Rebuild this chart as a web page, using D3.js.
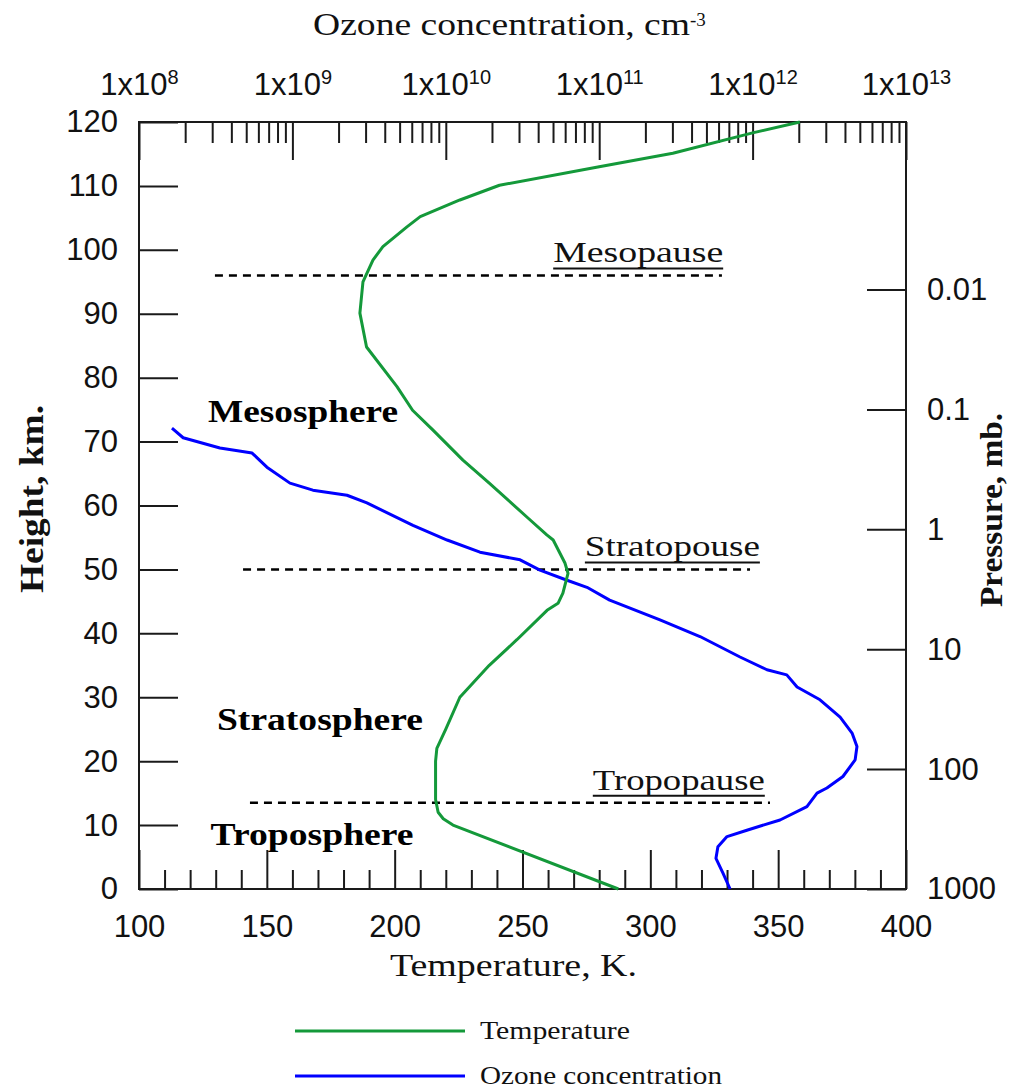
<!DOCTYPE html>
<html>
<head>
<meta charset="utf-8">
<script src="https://cdn.jsdelivr.net/npm/d3@7"></script>
<style>
  html, body { margin: 0; padding: 0; background: #fff; }
  svg { display: block; }
</style>
</head>
<body>
<svg id="chart" width="1010" height="1089"></svg>
<script>
// Temperature profile: height (km) and temperature (K)
const tempKm = [0, 10, 11, 12, 14, 20, 22, 25, 30, 35, 39, 43.6, 44.7, 46.3, 49.4, 51, 54.6, 55.4,
  58.2, 63.5, 67.1, 71.8, 74.9, 78.6, 84.8, 90.1, 95.0, 98.4, 100.5, 103.6, 105.2, 107.8, 110.1,
  113, 115.1, 118.3, 120];
const tempK = [287.5, 222.8, 219, 217, 216, 216, 216.5, 220, 225.5, 237, 247.8, 259.6, 263.9, 265.8,
  267.8, 266.6, 262, 259.5, 251.7, 237, 226.7, 215, 207, 200.9, 189, 186.4, 187.6, 191.5, 195.4,
  204.8, 210, 225.5, 241, 280, 308.8, 340, 358.5];

// Ozone profile: height (km) and number density (cm^-3)
const ozoneKm = [0, 2.5, 4.8, 6.6, 8.2, 9.2, 10.8, 12.9, 15, 15.8, 17.6, 20.2, 22.3, 24.4, 26.9,
  29.6, 31.6, 33.5, 34.3, 36.3, 39.5, 42.1, 45.2, 47.2, 48.3, 49.9, 51.5, 52.7, 54.6, 56.9, 60.4,
  61.6, 62.4, 63.5, 66, 68.2, 69, 70.6, 72.1];
const ozoneConc = [7.13e11, 6.41e11, 5.77e11, 5.94e11, 6.81e11, 9.18e11, 1.51e12, 2.26e12, 2.63e12,
  3.05e12, 3.88e12, 4.66e12, 4.79e12, 4.45e12, 3.72e12, 2.75e12, 1.95e12, 1.67e12, 1.24e12, 8.28e11,
  4.54e11, 2.49e11, 1.17e11, 8.32e10, 6.17e10, 4.11e10, 3.05e10, 1.67e10, 1.02e10, 6.11e9, 3.06e9,
  2.27e9, 1.36e9, 9.64e8, 6.82e8, 5.46e8, 3.37e8, 1.94e8, 1.64e8];

// Axis ticks
const heightTicks = [0, 10, 20, 30, 40, 50, 60, 70, 80, 90, 100, 110, 120];
const tempMajorTicks = [100, 150, 200, 250, 300, 350, 400];
const ozoneDecades = [1e8, 1e9, 1e10, 1e11, 1e12, 1e13];
const ozoneExponents = ["8", "9", "10", "11", "12", "13"];
const pressureTicks = [0.01, 0.1, 1, 10, 100, 1000];
const pressureLabels = ["0.01", "0.1", "1", "10", "100", "1000"];

// Layer boundaries (km) and region names
const pauseNames = ["Mesopause", "Stratopouse", "Tropopause"];
const pauseKm = [96, 50, 13.5];
const sphereNames = ["Mesosphere", "Stratosphere", "Troposphere"];

const seriesNames = ["Temperature", "Ozone concentration"];

const GREEN = "#14993a", BLUE = "#0000ff", INK = "#1a1a1a";
const SANS = "'Liberation Sans', Arial, sans-serif";
const SERIF = "'Liberation Serif', 'Times New Roman', serif";

const svg = d3.select("#chart");
const M = { left: 139, top: 122 }, W = 767, H = 767;
const g = svg.append("g").attr("transform", `translate(${M.left},${M.top})`);

const x = d3.scaleLinear().domain([100, 400]).range([0, W]);
const xo = d3.scaleLog().domain([1e8, 1e13]).range([0, W]);
const y = d3.scaleLinear().domain([0, 120]).range([H, 0]);
const yp = d3.scaleLog().domain([1000, 4e-4]).range([H, 0]);

function styleAxis(sel, size) {
  sel.select(".domain").remove();
  sel.selectAll(".tick line").attr("stroke", INK).attr("stroke-width", 2);
  sel.selectAll(".tick text").attr("fill", "#111").attr("font-family", SANS).attr("font-size", size);
}

// Left axis: height
g.append("g")
  .call(d3.axisLeft(y).tickValues(heightTicks).tickSize(-39).tickPadding(21).tickFormat(d3.format("d")))
  .call(s => styleAxis(s, 31));

// Bottom axis: temperature (minor + major)
g.append("g").attr("transform", `translate(0,${H})`)
  .call(d3.axisBottom(x).tickValues(d3.range(110, 400, 10).filter(v => v % 50 !== 0)).tickSize(-19).tickFormat(""))
  .call(s => styleAxis(s, 31));
g.append("g").attr("transform", `translate(0,${H})`)
  .call(d3.axisBottom(x).tickValues(tempMajorTicks).tickSize(-39).tickPadding(26).tickFormat(d3.format("d")))
  .call(s => styleAxis(s, 31));

// Top axis: ozone concentration (log)
const minorOz = xo.ticks().filter(v => !ozoneDecades.some(d => Math.abs(v / d - 1) < 1e-9));
g.append("g")
  .call(d3.axisTop(xo).tickValues(minorOz).tickSize(-21).tickFormat(""))
  .call(s => styleAxis(s, 31));
const topAx = g.append("g")
  .call(d3.axisTop(xo).tickValues(ozoneDecades).tickSize(-38).tickPadding(27).tickFormat(""))
  .call(s => styleAxis(s, 31));
topAx.selectAll(".tick text").each(function (d, i) {
  const t = d3.select(this);
  t.text("1x10");
  t.append("tspan").attr("dy", "-0.55em").attr("font-size", 20).text(ozoneExponents[i]);
});

// Right axis: pressure (log)
g.append("g").attr("transform", `translate(${W},0)`)
  .call(d3.axisRight(yp).tickValues(pressureTicks).tickSize(-39).tickPadding(21)
    .tickFormat((d, i) => pressureLabels[i]))
  .call(s => styleAxis(s, 31));

// Frame
g.append("rect").attr("width", W).attr("height", H)
  .attr("fill", "none").attr("stroke", INK).attr("stroke-width", 2);

// Layer boundaries (dashed) with underlined labels
const pauseLayout = [
  { x0: 129.7, x1: 328, tx: 262, tw: 170 },
  { x0: 140.7, x1: 339, tx: 274.4, tw: 175 },
  { x0: 143.4, x1: 346.8, tx: 277.5, tw: 172 }
];
pauseKm.forEach((km, i) => {
  const L = pauseLayout[i];
  const yy = y(km);
  g.append("line").attr("x1", x(L.x0)).attr("x2", x(L.x1)).attr("y1", yy).attr("y2", yy)
    .attr("stroke", "#000").attr("stroke-width", 2.5).attr("stroke-dasharray", "8,6");
  g.append("text").attr("x", x(L.tx)).attr("y", yy - 13)
    .attr("font-family", SERIF).attr("font-size", 30).attr("fill", "#111")
    .attr("textLength", L.tw).attr("lengthAdjust", "spacingAndGlyphs")
    .text(pauseNames[i]);
  g.append("line").attr("x1", x(L.tx)).attr("x2", x(L.tx) + L.tw)
    .attr("y1", yy - 7).attr("y2", yy - 7).attr("stroke", "#111").attr("stroke-width", 2);
});

// Region names
const sphereLayout = [
  { t: 127, km: (889 - 422) / 6.392, w: 190 },
  { t: 130.5, km: (889 - 730) / 6.392, w: 206 },
  { t: 128, km: (889 - 845) / 6.392, w: 203 }
];
sphereNames.forEach((name, i) => {
  const L = sphereLayout[i];
  g.append("text").attr("x", x(L.t)).attr("y", y(L.km))
    .attr("font-family", SERIF).attr("font-weight", "bold").attr("font-size", 31).attr("fill", "#000")
    .attr("textLength", L.w).attr("lengthAdjust", "spacingAndGlyphs")
    .text(name);
});

// Curves
const tempData = tempKm.map((h, i) => ({ h, v: tempK[i] }));
const ozoneData = ozoneKm.map((h, i) => ({ h, v: ozoneConc[i] }));
g.append("path").datum(ozoneData)
  .attr("fill", "none").attr("stroke", BLUE).attr("stroke-width", 3).attr("stroke-linejoin", "round")
  .attr("d", d3.line().x(d => xo(d.v)).y(d => y(d.h)));
g.append("path").datum(tempData)
  .attr("fill", "none").attr("stroke", GREEN).attr("stroke-width", 3).attr("stroke-linejoin", "round")
  .attr("d", d3.line().x(d => x(d.v)).y(d => y(d.h)));

// Axis titles
const topTitle = svg.append("text").attr("x", 313).attr("y", 35)
  .attr("font-family", SERIF).attr("font-size", 31).attr("fill", "#111");
topTitle.append("tspan").attr("textLength", 377).attr("lengthAdjust", "spacingAndGlyphs")
  .text("Ozone concentration, cm");
topTitle.append("tspan").attr("dy", "-0.5em").attr("font-size", 19).text("-3");

svg.append("text").attr("x", 390).attr("y", 976)
  .attr("font-family", SERIF).attr("font-size", 31).attr("fill", "#111")
  .attr("textLength", 247).attr("lengthAdjust", "spacingAndGlyphs")
  .text("Temperature, K.");

svg.append("text").attr("transform", "translate(43,593) rotate(-90)")
  .attr("font-family", SERIF).attr("font-weight", "bold").attr("font-size", 33).attr("fill", "#111")
  .attr("textLength", 188).attr("lengthAdjust", "spacingAndGlyphs")
  .text("Height, km.");

svg.append("text").attr("transform", "translate(1002,607) rotate(-90)")
  .attr("font-family", SERIF).attr("font-weight", "bold").attr("font-size", 31).attr("fill", "#111")
  .attr("textLength", 194).attr("lengthAdjust", "spacingAndGlyphs")
  .text("Pressure, mb.");

// Legend
const legendColors = [GREEN, BLUE];
const legendY = [1031, 1076];
seriesNames.forEach((name, i) => {
  svg.append("line").attr("x1", 295).attr("x2", 465).attr("y1", legendY[i]).attr("y2", legendY[i])
    .attr("stroke", legendColors[i]).attr("stroke-width", 3);
  svg.append("text").attr("x", 480).attr("y", legendY[i] + 8)
    .attr("font-family", SERIF).attr("font-size", 26).attr("fill", "#111")
    .attr("textLength", i === 0 ? 150 : 242).attr("lengthAdjust", "spacingAndGlyphs")
    .text(name);
});
</script>
</body>
</html>
